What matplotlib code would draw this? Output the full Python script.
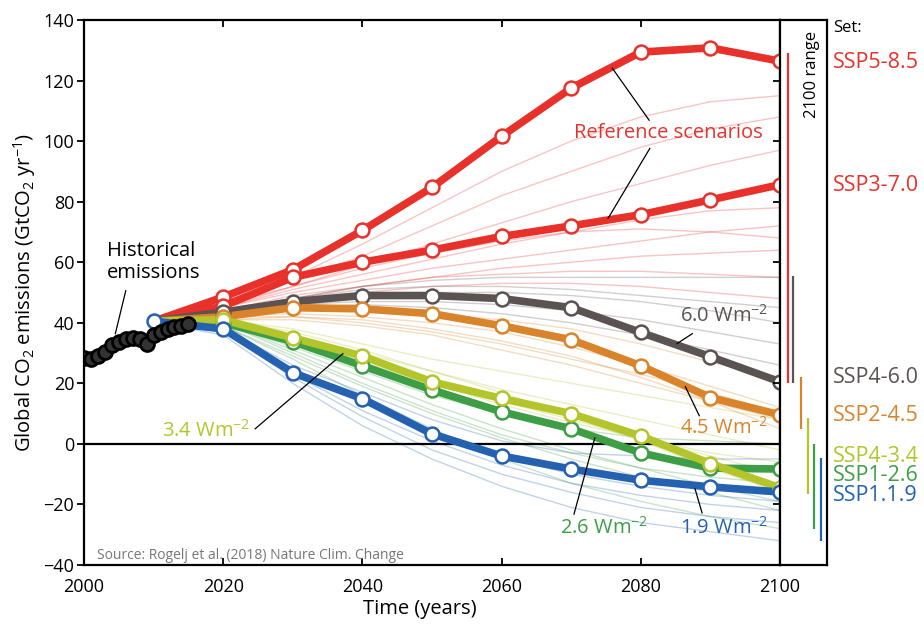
import numpy as np
import matplotlib
matplotlib.use("Agg")
import matplotlib.pyplot as plt

plt.rcParams['font.family'] = ['Open Sans', 'DejaVu Sans']
plt.rcParams['mathtext.default'] = 'regular'

# decadal years of the scenario runs
years = [2010, 2020, 2030, 2040, 2050, 2060, 2070, 2080, 2090, 2100]

# historical emissions
hist_years = list(range(2000, 2016))
hist_vals = [28.5, 28.0, 29.0, 30.5, 32.5, 33.8, 34.7, 35.0, 34.5, 33.0,
             36.0, 37.0, 38.0, 38.6, 39.0, 39.5]

# marker (reference) scenarios
ssp585 = [40.5, 48.5, 57.5, 70.5, 84.7, 101.6, 117.5, 129.4, 130.8, 126.4]
ssp370 = [40.5, 45.5, 55.0, 60.0, 64.0, 68.5, 72.0, 75.7, 80.6, 85.6]
ssp460 = [40.5, 43.5, 47.0, 49.0, 49.0, 48.0, 45.0, 36.8, 28.8, 20.5]
ssp245 = [40.5, 42.0, 45.0, 44.6, 43.0, 39.0, 34.4, 25.8, 15.3, 9.6]
ssp434 = [40.5, 41.0, 35.0, 29.0, 20.5, 15.0, 10.0, 2.6, -6.5, -14.5]
ssp126 = [40.5, 40.0, 33.8, 25.8, 17.8, 10.6, 5.0, -3.0, -8.0, -8.3]
ssp119 = [40.5, 38.0, 23.5, 14.9, 3.3, -4.0, -8.3, -12.0, -14.2, -15.9]

# faint other scenarios, by family
red_runs = [
    [40, 47, 55, 66, 78, 90, 100, 108, 113, 115],
    [40, 46, 54, 62, 72, 82, 90, 98, 104, 108],
    [40, 46, 52, 59, 66, 73, 80, 86, 92, 97],
    [40, 45, 51, 56, 61, 66, 70, 74, 77, 78],
    [40, 45, 50, 54, 58, 61, 64, 67, 70, 72],
    [40, 44, 48, 52, 55, 58, 60, 62, 63, 64],
    [40, 44, 49, 52, 55, 56, 57, 57, 56, 55],
    [40, 45, 52, 58, 63, 67, 70, 71, 70, 68],
    [40, 44, 47, 50, 52, 53, 53, 52, 50, 48],
]
gray_runs = [
    [40, 44, 48, 52, 54, 55, 55, 55, 55, 55],
    [40, 44, 47, 49, 50, 50, 49, 47, 44, 40],
    [40, 43, 46, 47, 47, 46, 44, 41, 37, 33],
    [40, 43, 45, 46, 45, 43, 40, 36, 31, 26],
    [40, 44, 48, 51, 52, 52, 51, 49, 47, 45],
]
orange_runs = [
    [40, 42, 44, 44, 43, 41, 38, 33, 27, 22],
    [40, 42, 43, 42, 40, 37, 32, 26, 19, 12],
    [40, 41, 42, 41, 38, 34, 29, 22, 14, 5],
    [40, 42, 42, 40, 37, 33, 28, 23, 17, 10],
    [40, 41, 41, 39, 36, 31, 26, 20, 14, 8],
]
yellow_runs = [
    [40, 41, 38, 33, 28, 24, 20, 16, 12, 8],
    [40, 41, 36, 30, 24, 18, 13, 8, 3, -2],
    [40, 40, 35, 28, 21, 14, 8, 2, -4, -10],
    [40, 41, 37, 31, 24, 17, 9, 1, -8, -16],
    [40, 40, 34, 27, 20, 13, 7, 2, -3, -6],
]
green_runs = [
    [40, 40, 32, 24, 16, 10, 5, 2, 1, 0],
    [40, 40, 30, 20, 11, 3, -3, -8, -11, -13],
    [40, 39, 28, 16, 5, -5, -13, -19, -24, -28],
    [40, 40, 31, 22, 13, 5, -2, -8, -14, -19],
    [40, 39, 29, 19, 10, 2, -5, -11, -16, -22],
]
blue_runs = [
    [40, 38, 26, 17, 8, 1, -3, -4, -5, -5],
    [40, 37, 23, 11, 1, -7, -13, -17, -20, -22],
    [40, 36, 20, 6, -5, -14, -21, -26, -29, -32],
    [40, 37, 22, 9, -2, -10, -16, -21, -24, -26],
    [40, 38, 25, 14, 4, -4, -10, -14, -17, -19],
]

# 2100 ranges shown in the side box (low, high)
range_names = ['SSP5/3', 'SSP4-6.0', 'SSP2-4.5', 'SSP4-3.4', 'SSP1-2.6', 'SSP1-1.9']
range_lo = [20, 20, 5, -16.5, -28, -32]
range_hi = [129, 55.5, 22, 8.6, 0, -4.6]

set_labels = ['SSP5-8.5', 'SSP3-7.0', 'SSP4-6.0', 'SSP2-4.5', 'SSP4-3.4', 'SSP1-2.6', 'SSP1.1.9']
set_label_y = [126, 85.4, 22, 9.3, -4.3, -10.3, -16.9]

RED = '#e8312b'
GRAY = '#5a5352'
ORANGE = '#d9832a'
YELLOW = '#b4c52b'
GREEN = '#3d9e46'
BLUE = '#2461b0'

fig = plt.figure(figsize=(9.24, 6.24), dpi=100)
W, H = 924, 624
ax = fig.add_axes([84 / W, (H - 565) / H, (780 - 84) / W, (565 - 20) / H])
box = fig.add_axes([780 / W, (H - 565) / H, (827 - 780) / W, (565 - 20) / H])

for runs, c in [(red_runs, RED), (gray_runs, GRAY), (orange_runs, ORANGE),
                (yellow_runs, YELLOW), (green_runs, GREEN), (blue_runs, BLUE)]:
    for r in runs:
        ax.plot(years, r, color=c, lw=1, alpha=0.28, zorder=1)

ax.axhline(0, color='black', lw=1.6, zorder=2)

series = [(ssp585, RED), (ssp370, RED), (ssp460, GRAY), (ssp245, ORANGE),
          (ssp126, GREEN), (ssp434, YELLOW), (ssp119, BLUE)]
for vals, c in series:
    ax.plot(years, vals, color=c, lw=5.5, solid_capstyle='round', zorder=3)
for vals, c in series:
    start = 0 if c == BLUE else 1
    ax.plot(years[start:], vals[start:], ls='none', marker='o', ms=10,
            mfc='white', mec=c, mew=1.8, zorder=4, clip_on=False)

ax.plot(hist_years, hist_vals, color='black', lw=6, zorder=5)
ax.plot(hist_years, hist_vals, ls='none', marker='o', ms=10, mfc='#333333',
        mec='black', mew=2, zorder=5)

ax.set_xlim(2000, 2100)
ax.set_ylim(-40, 140)
ax.set_xticks(range(2000, 2101, 20))
ax.set_yticks(range(-40, 141, 20))
ax.tick_params(axis='x', direction='in', top=True, bottom=True, length=5,
               width=1.3, labelsize=13, pad=9)
ax.tick_params(axis='y', direction='out', left=True, right=False, length=5,
               width=1.3, labelsize=13, pad=2)
for s in ax.spines.values():
    s.set_linewidth(1.6)

ax.set_xlabel('Time (years)', fontsize=14.5)
ax.xaxis.set_label_coords(0.483, -0.062)
ax.set_ylabel('Global CO$_2$ emissions (GtCO$_2$ yr$^{-1}$)', fontsize=14.5)
ax.yaxis.set_label_coords(-0.066, 0.5)

ann = dict(color='black', lw=0.9)
ax.text(2003.3, 60, 'Historical\nemissions', fontsize=14.5, ha='left', va='center',
        linespacing=1.1)
ax.plot([2006.0, 2004.5], [50.6, 36.4], **ann, zorder=6)

ax.text(2084, 102.6, 'Reference scenarios', color=RED, fontsize=14.5,
        ha='center', va='center')
ax.plot([2075.9, 2081.2], [124.1, 106.9], **ann, zorder=6)
ax.plot([2081.3, 2075.3], [97.6, 74.5], **ann, zorder=6)

ax.text(2098.3, 42.4, '6.0 Wm$^{-2}$', color=GRAY, fontsize=14.5, ha='right', va='center')
ax.plot([2087.4, 2085.2], [36.4, 33.1], **ann, zorder=6)
ax.text(2098.3, 5.3, '4.5 Wm$^{-2}$', color=ORANGE, fontsize=14.5, ha='right', va='center')
ax.plot([2088.4, 2086.4], [9.3, 18.9], **ann, zorder=6)
ax.text(2023.9, 4.3, '3.4 Wm$^{-2}$', color=YELLOW, fontsize=14.5, ha='right', va='center')
ax.plot([2024.6, 2037.2], [5.0, 29.8], **ann, zorder=6)
ax.text(2068.4, -27.8, '2.6 Wm$^{-2}$', color=GREEN, fontsize=14.5, ha='left', va='center')
ax.plot([2070.4, 2073.4], [-23.2, 2.0], **ann, zorder=6)
ax.text(2098.3, -27.8, '1.9 Wm$^{-2}$', color=BLUE, fontsize=14.5, ha='right', va='center')
ax.plot([2088.8, 2087.8], [-22.8, -14.9], **ann, zorder=6)

ax.text(2001.8, -37, 'Source: Rogelj et al. (2018) Nature Clim. Change', color='#777777',
        fontsize=10, ha='left', va='center')

# side box with the 2100 ranges
box.set_xlim(0, 1)
box.set_ylim(-40, 140)
box.set_xticks([])
box.set_yticks(range(-40, 141, 20))
box.tick_params(axis='y', direction='out', left=True, length=5, width=1.3, labelleft=False)
for s in box.spines.values():
    s.set_linewidth(1.6)
range_x = [0.17, 0.28, 0.45, 0.60, 0.72, 0.87]
range_c = [RED, GRAY, ORANGE, YELLOW, GREEN, BLUE]
for i in range(len(range_names)):
    box.vlines(range_x[i], range_lo[i], range_hi[i], color=range_c[i], lw=1.6)
box.text(0.68, 122, '2100 range', rotation=90, fontsize=12, ha='center', va='center')

lbl = box.get_yaxis_transform()
box.text(1.13, 137.3, 'Set:', transform=lbl, fontsize=12, ha='left', va='center',
         clip_on=False)
set_c = [RED, RED, GRAY, ORANGE, YELLOW, GREEN, BLUE]
for i in range(len(set_labels)):
    box.text(1.13, set_label_y[i], set_labels[i], transform=lbl, color=set_c[i],
             fontsize=15.5, ha='left', va='center', clip_on=False)

fig.savefig('out.png', dpi=100)
